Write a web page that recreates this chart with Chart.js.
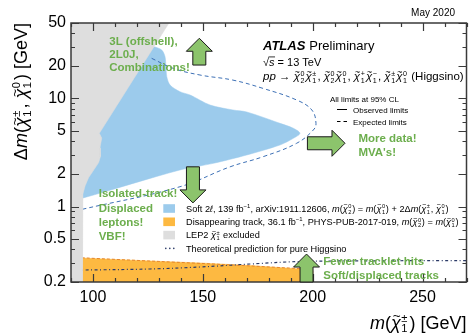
<!DOCTYPE html>
<html>
<head>
<meta charset="utf-8">
<script src="https://cdn.jsdelivr.net/npm/chart.js@4.4.1/dist/chart.umd.min.js"></script>
<style>
  html, body { margin: 0; padding: 0; background: #fff; }
</style>
</head>
<body>
<canvas id="c" width="470" height="336"></canvas>
<script>
// ---- Limit contours in the (m(chargino), Δm) plane ----
// Soft 2ℓ observed exclusion (closed contour)
const softObsMass = [126.0, 128.2, 131.3, 132.8, 133.2, 133.6, 135.1, 139.6, 144.2, 153.3, 163.7, 170.0, 185.1, 191.2, 194.2, 191.2, 185.1, 170.0, 154.8, 139.6, 95.5, 93.0, 93.0, 100.0];
const softObsDm   = [30.5, 30.0, 28.1, 24.4, 19.7, 15.9, 13.3, 11.56, 10.77, 8.7, 7.83, 7.5, 5.89, 5.3, 4.76, 4.28, 3.71, 3.0, 2.51, 2.18, 1.2, 1.2, 4.0, 4.5];

// Soft 2ℓ expected limit
const softExpMass = [126.7, 136.6, 148.7, 163.7, 177.4, 192.7, 199.6, 201.5, 200.3, 192.7, 177.4, 162.4, 139.6, 94.9];
const softExpDm   = [23.55, 19.0, 16.5, 14.8, 12.4, 9.68, 7.83, 5.89, 5.11, 3.85, 2.89, 2.33, 1.525, 0.94];

// Disappearing-track observed exclusion
const disObsMass = [95.0, 126.0, 148.7, 171.5, 194.2, 200.0, 200.0, 95.0];
const disObsDm   = [0.333, 0.313, 0.300, 0.284, 0.264, 0.255, 0.15, 0.15];

// Disappearing-track expected limit
const disExpMass = [95.0, 130.0, 160.0, 200.0];
const disExpDm   = [0.335, 0.31, 0.29, 0.262];

// LEP2 chargino exclusion
const lepMass = [90.0, 134.6, 102.9, 104.0, 103.2, 103.4, 102.6, 100.5, 98.0, 96.4, 95.4, 95.2, 95.2, 90.0];
const lepDm   = [50.0, 50.0, 4.76, 4.3, 3.5, 2.9, 2.55, 2.2, 1.85, 1.55, 1.3, 1.0, 0.15, 0.15];

// Pure-Higgsino theoretical mass splitting
const theoryMass = [95.0, 126.0, 148.7, 171.5, 194.2, 230.0, 270.0];
const theoryDm   = [0.258, 0.264, 0.2754, 0.2934, 0.3094, 0.314, 0.316];

// Axes
const xRange = [90, 270];
const yRange = [0.2, 50];
const xTicks = [100, 150, 200, 250];
const yTicks = [0.2, 0.5, 1, 2, 5, 10, 20, 50];

const FONT = '"Liberation Sans", Arial, Helvetica, sans-serif';
const pts = (xs, ys) => xs.map((x, i) => ({ x, y: ys[i] }));

function font(size, o) {
  o = o || {};
  return (o.i ? 'italic ' : '') + (o.b ? 'bold ' : '') + size + 'px ' + FONT;
}

// Draws a run of text segments (plain, italic, chargino/neutralino symbols, superscripts)
function rich(ctx, segs, x, y, size, draw) {
  if (draw === undefined) draw = true;
  let cx = x;
  for (const s of segs) {
    if (typeof s === 'string' || s.t !== undefined) {
      const t = typeof s === 'string' ? s : s.t;
      ctx.font = font(size, typeof s === 'string' ? {} : s);
      if (draw) ctx.fillText(t, cx, y);
      cx += ctx.measureText(t).width;
    } else if (s.chi) {
      ctx.font = font(size, { i: true });
      const w = ctx.measureText('χ').width;
      if (draw) {
        ctx.fillText('χ', cx, y);
        ctx.font = font(size * 0.75);
        const tw = ctx.measureText('~').width;
        ctx.fillText('~', cx + w * 0.58 - tw / 2, y - size * 0.47);
      }
      cx += w;
      const ss = size * 0.62;
      ctx.font = font(ss);
      let w2 = 0;
      if (s.up) { if (draw) ctx.fillText(s.up, cx + 0.5, y - size * 0.38); w2 = Math.max(w2, ctx.measureText(s.up).width); }
      if (s.dn) { if (draw) ctx.fillText(s.dn, cx + 0.5, y + size * 0.22); w2 = Math.max(w2, ctx.measureText(s.dn).width); }
      cx += w2 + size * 0.14;
    } else if (s.sup) {
      ctx.font = font(size * 0.65);
      if (draw) ctx.fillText(s.sup, cx, y - size * 0.4);
      cx += ctx.measureText(s.sup).width;
    } else if (s.root) {
      ctx.font = font(size);
      const rw = ctx.measureText('√').width;
      ctx.font = font(size, { i: true });
      const sw = ctx.measureText(s.root).width;
      if (draw) {
        ctx.font = font(size);
        ctx.fillText('√', cx, y);
        ctx.font = font(size, { i: true });
        ctx.fillText(s.root, cx + rw, y);
        ctx.save();
        ctx.lineWidth = 0.8;
        ctx.strokeStyle = ctx.fillStyle;
        ctx.beginPath();
        ctx.moveTo(cx + rw - 0.5, y - size * 0.78);
        ctx.lineTo(cx + rw + sw + 0.5, y - size * 0.78);
        ctx.stroke();
        ctx.restore();
      }
      cx += rw + sw;
    }
  }
  return cx - x;
}

const C = (up, dn) => ({ chi: true, up, dn });
const M = { t: 'm', i: true };

const yTitle = ['Δ', M, '(', C('±', '1'), ', ', C('0', '1'), ') [GeV]'];
const xTitle = [M, '(', C('±', '1'), ') [GeV]'];
const procLine = [{ t: 'pp', i: true }, ' → ', C('0', '2'), C('±', '1'), ', ', C('0', '2'), C('0', '1'), ', ',
  C('+', '1'), C('−', '1'), ', ', C('±', '1'), C('0', '1'), ' (Higgsino)'];

const legendRows = [
  { kind: 'box', color: '#9ccbec', segs: ['Soft 2', { t: 'ℓ', i: true }, ', 139 fb', { sup: '−1' }, ', arXiv:1911.12606, ', M, '(', C('0', '2'), ') = ', M, '(', C('0', '1'), ') + 2Δ', M, '(', C('±', '1'), ', ', C('0', '1'), ')'] },
  { kind: 'box', color: '#fdb941', segs: ['Disappearing track, 36.1 fb', { sup: '−1' }, ', PHYS-PUB-2017-019, ', M, '(', C('0', '2'), ') = ', M, '(', C('0', '1'), ')'] },
  { kind: 'box', color: '#dedede', segs: ['LEP2 ', C('±', '1'), ' excluded'] },
  { kind: 'dots', color: '#2b3a67', segs: ['Theoretical prediction for pure Higgsino'] }
];

// Green call-out arrows (tail → tip, in data units)
const arrows = [
  { from: [148.4, 20.4], to: [148.4, 36.1] },
  { from: [197.6, 3.85], to: [214.7, 3.85] },
  { from: [145.5, 2.33], to: [145.5, 1.08] },
  { from: [197.2, 0.2], to: [197.2, 0.363] }
];

// Green call-out texts (first-line anchor in data units)
const callouts = [
  { at: [107.4, 31.3], step: 13.2, lines: ['3L (offshell),', '2L0J,', 'Combinations!'] },
  { at: [102.6, 1.216], step: 14.2, lines: ['Isolated-track!', 'Displaced', 'leptons!', 'VBF!'] },
  { at: [220.8, 3.98], step: 14.0, lines: ['More data!', "MVA's!"] },
  { at: [204.8, 0.287], step: 14.3, lines: ['Fewer tracklet hits', 'Soft/displaced tracks'] }
];

const GREEN = '#6cae4d';
const FRAME = '#3a3a3a';

function drawArrow(ctx, x1, y1, x2, y2, sw, hw, hl) {
  const dx = x2 - x1, dy = y2 - y1, L = Math.hypot(dx, dy);
  const ux = dx / L, uy = dy / L, nx = -uy, ny = ux;
  const bx = x2 - ux * hl, by = y2 - uy * hl;
  const p = [
    [x1 + nx * sw / 2, y1 + ny * sw / 2],
    [bx + nx * sw / 2, by + ny * sw / 2],
    [bx + nx * hw / 2, by + ny * hw / 2],
    [x2, y2],
    [bx - nx * hw / 2, by - ny * hw / 2],
    [bx - nx * sw / 2, by - ny * sw / 2],
    [x1 - nx * sw / 2, y1 - ny * sw / 2]
  ];
  ctx.beginPath();
  ctx.moveTo(p[0][0], p[0][1]);
  for (let i = 1; i < p.length; i++) ctx.lineTo(p[i][0], p[i][1]);
  ctx.closePath();
  ctx.fillStyle = '#8cc46c';
  ctx.fill();
  ctx.lineWidth = 1;
  ctx.strokeStyle = '#1a1a1a';
  ctx.stroke();
}

const decor = {
  id: 'decor',
  afterDatasetsDraw(chart) {
    const { ctx, chartArea: a, scales: { x, y } } = chart;
    ctx.save();
    ctx.strokeStyle = FRAME;
    ctx.lineWidth = 1.2;
    // inward ticks on all four sides
    ctx.beginPath();
    for (let v = xRange[0]; v <= xRange[1]; v += 10) {
      const px = Math.round(x.getPixelForValue(v)) + 0.5;
      const len = xTicks.includes(v) ? 8 : 4;
      ctx.moveTo(px, a.bottom); ctx.lineTo(px, a.bottom - len);
      ctx.moveTo(px, a.top); ctx.lineTo(px, a.top + len);
    }
    for (const d of [0.1, 1, 10]) {
      for (let k = 1; k <= 9; k++) {
        const v = +(k * d).toPrecision(3);
        if (v < yRange[0] || v > yRange[1]) continue;
        const py = Math.round(y.getPixelForValue(v)) + 0.5;
        const len = yTicks.includes(v) ? 8 : 4;
        ctx.moveTo(a.left, py); ctx.lineTo(a.left + len, py);
        ctx.moveTo(a.right, py); ctx.lineTo(a.right - len, py);
      }
    }
    ctx.stroke();
    ctx.lineWidth = 1.5;
    ctx.strokeRect(a.left, a.top, a.right - a.left, a.bottom - a.top);
    ctx.restore();
  },
  afterDraw(chart) {
    const { ctx, chartArea: a, scales: { x, y } } = chart;
    ctx.save();
    ctx.textBaseline = 'alphabetic';
    ctx.textAlign = 'left';

    // arrows
    for (const ar of arrows) {
      drawArrow(ctx, x.getPixelForValue(ar.from[0]), y.getPixelForValue(ar.from[1]),
        x.getPixelForValue(ar.to[0]), y.getPixelForValue(ar.to[1]), 13, 26, 13);
    }

    // green call-outs
    ctx.fillStyle = GREEN;
    ctx.font = font(11.5, { b: true });
    for (const c of callouts) {
      const px = x.getPixelForValue(c.at[0]), py = y.getPixelForValue(c.at[1]);
      c.lines.forEach((t, i) => ctx.fillText(t, px, py + i * c.step));
    }

    // header
    ctx.fillStyle = '#000';
    ctx.font = font(10);
    ctx.textAlign = 'right';
    ctx.fillText('May 2020', 455, 16);
    ctx.textAlign = 'left';
    const hx = a.left + 192;
    ctx.font = font(13, { b: true, i: true });
    ctx.fillText('ATLAS', hx, 50);
    const aw = ctx.measureText('ATLAS').width;
    ctx.font = font(13);
    ctx.fillText('Preliminary', hx + aw + 4, 50);
    rich(ctx, [{ root: 's' }, ' = 13 TeV'], hx, 65.5, 11);
    rich(ctx, procLine, hx, 80, 11.5);

    // line-style key
    ctx.font = font(8);
    ctx.fillText('All limits at 95% CL', 330, 102);
    ctx.fillText('Observed limits', 353, 112.5);
    ctx.fillText('Expected limits', 353, 124.8);
    ctx.strokeStyle = '#000';
    ctx.lineWidth = 1;
    ctx.beginPath();
    ctx.moveTo(337, 109.5); ctx.lineTo(347, 109.5);
    ctx.moveTo(337, 121.5); ctx.lineTo(340.5, 121.5);
    ctx.moveTo(343.5, 121.5); ctx.lineTo(347, 121.5);
    ctx.stroke();

    // legend
    legendRows.forEach((r, i) => {
      const cy = 208.5 + i * 13.3;
      const bx = a.left + 92.3;
      if (r.kind === 'box') {
        ctx.fillStyle = r.color;
        ctx.fillRect(bx, cy - 4.3, 11.7, 8.6);
      } else {
        ctx.fillStyle = r.color;
        for (const dx of [2.5, 6.5, 10.5]) {
          ctx.beginPath(); ctx.arc(bx + dx, cy, 0.8, 0, Math.PI * 2); ctx.fill();
        }
      }
      ctx.fillStyle = '#000';
      rich(ctx, r.segs, a.left + 115, cy + 3.2, 9.2);
    });

    // axis titles
    ctx.fillStyle = '#000';
    const tx = rich(ctx, xTitle, 0, 0, 18, false);
    rich(ctx, xTitle, a.right - tx, 328.5, 18);
    const ty = rich(ctx, yTitle, 0, 0, 18, false);
    ctx.translate(27, a.top + ty);
    ctx.rotate(-Math.PI / 2);
    rich(ctx, yTitle, 0, 0, 18);
    ctx.restore();
  }
};

const base = { showLine: true, pointRadius: 0, pointHoverRadius: 0 };

new Chart(document.getElementById('c'), {
  type: 'scatter',
  data: {
    datasets: [
      Object.assign({ label: 'LEP2', data: pts(lepMass, lepDm), fill: 'shape', backgroundColor: '#dedede', borderColor: '#dedede', borderWidth: 0.5, tension: 0, order: 1 }, base),
      Object.assign({ label: 'Theory', data: pts(theoryMass, theoryDm), fill: false, borderColor: '#2b3a67', borderWidth: 1.2, borderDash: [1, 2.5, 3, 2.5], tension: 0.4, order: 2 }, base),
      Object.assign({ label: 'Disappearing expected', data: pts(disExpMass, disExpDm), fill: false, borderColor: '#e5862b', borderWidth: 1, borderDash: [3, 2], tension: 0.3, order: 3 }, base),
      Object.assign({ label: 'Disappearing track', data: pts(disObsMass, disObsDm), fill: 'shape', backgroundColor: '#fdb941', borderColor: '#fdb941', borderWidth: 0.5, tension: 0, order: 4 }, base),
      Object.assign({ label: 'Soft 2l expected', data: pts(softExpMass, softExpDm), fill: false, borderColor: '#3d70b5', borderWidth: 1, borderDash: [4, 3], tension: 0.4, order: 5 }, base),
      Object.assign({ label: 'Soft 2l', data: pts(softObsMass, softObsDm), fill: 'shape', backgroundColor: '#9ccbec', borderColor: '#9ccbec', borderWidth: 0.5, tension: 0.3, order: 6 }, base)
    ]
  },
  options: {
    responsive: false,
    animation: false,
    events: [],
    layout: { padding: { top: 23, right: 3.5, left: 0, bottom: 0 } },
    plugins: { legend: { display: false }, tooltip: { enabled: false } },
    scales: {
      x: {
        type: 'linear', min: xRange[0], max: xRange[1],
        grid: { display: false, drawTicks: false }, border: { display: false },
        afterBuildTicks: s => { s.ticks = xTicks.map(v => ({ value: v })); },
        afterFit: s => { s.height = 54; },
        ticks: { font: { family: FONT, size: 16 }, color: '#000', padding: 6, maxRotation: 0, autoSkip: false }
      },
      y: {
        type: 'logarithmic', min: yRange[0], max: yRange[1],
        grid: { display: false, drawTicks: false }, border: { display: false },
        afterBuildTicks: s => { s.ticks = yTicks.map(v => ({ value: v })); },
        afterFit: s => { s.width = 71; },
        ticks: { font: { family: FONT, size: 16 }, color: '#000', padding: 5, autoSkip: false, callback: v => String(v) }
      }
    }
  },
  plugins: [decor]
});
</script>
</body>
</html>
